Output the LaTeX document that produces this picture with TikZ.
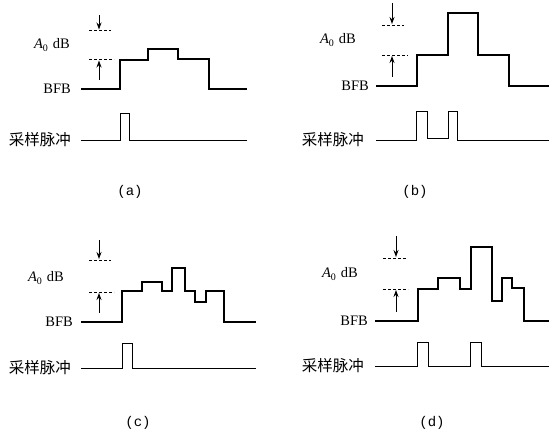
\documentclass[tikz,border=0pt]{standalone}
\usepackage{fontspec}
\setmainfont{Liberation Serif}
\newfontfamily\cjk{Noto Sans CJK SC}
\newfontfamily\capfont{Liberation Mono}
\usetikzlibrary{arrows.meta}
\newcommand{\AzerodB}{\textit{A}\raisebox{-3pt}{\fontsize{10}{10}\selectfont 0}\hspace{5pt}dB}
\begin{document}
\begin{tikzpicture}[x=1pt,y=-1pt,
  sig/.style={line width=1.1pt,line join=miter},
  pulseline/.style={line width=0.9pt,line join=miter},
  refline/.style={densely dashed,line width=0.7pt},
  marrow/.style={-{Stealth[length=7pt,width=5pt]},line width=0.9pt},
  lab/.style={inner sep=0pt,font=\fontsize{14.5}{14.5}\selectfont},
  cjklab/.style={inner sep=0pt,font=\cjk\fontsize{15.5}{16}\selectfont},
  caplab/.style={inner sep=0pt,font=\capfont\fontsize{14}{14}\selectfont}]
\useasboundingbox (0,0) rectangle (549,430);
\fill[white] (0,0) rectangle (549,430);

% ---------- (a) ----------
\coordinate (a-dt) at (99,15);
\coordinate (a-d1) at (89,30.5); \coordinate (a-d2) at (111,30.5);
\coordinate (a-e1) at (89,59.5); \coordinate (a-e2) at (114,59.5);
\coordinate (a-ut) at (99,80);
\draw[refline] (a-d1) -- (a-d2);
\draw[refline] (a-e1) -- (a-e2);
\draw[marrow] (a-dt) -- (99,29.5);
\draw[marrow] (a-ut) -- (99,60.5);
\node[lab] (a-A0) at (52,45) {\AzerodB};
\node[lab,anchor=east] (a-bfb) at (71,89) {BFB};
\node[cjklab,anchor=east] (a-cy) at (71,140) {采样脉冲};
\draw[sig] (81,89) -- (120,89) -- (120,60) -- (148,60) -- (148,49) -- (178,49) -- (178,59) -- (209,59) -- (209,89) -- (247,89);
\draw[pulseline] (81,140) -- (120,140) -- (120,113) -- (129,113) -- (129,140) -- (247,140);
\node[caplab] (a-cap) at (130,192) {(a)};

% ---------- (b) ----------
\coordinate (b-dt) at (392,3);
\coordinate (b-d1) at (382,25); \coordinate (b-d2) at (404,25);
\coordinate (b-e1) at (382,55); \coordinate (b-e2) at (408,55);
\coordinate (b-ut) at (392,77);
\draw[refline] (b-d1) -- (b-d2);
\draw[refline] (b-e1) -- (b-e2);
\draw[marrow] (b-dt) -- (392,24);
\draw[marrow] (b-ut) -- (392,56);
\node[lab] (b-A0) at (338,40) {\AzerodB};
\node[lab,anchor=east] (b-bfb) at (369,86) {BFB};
\node[cjklab,anchor=east] (b-cy) at (364,140) {采样脉冲};
\draw[sig] (376,86) -- (417,86) -- (417,55) -- (448,55) -- (448,13) -- (478,13) -- (478,55) -- (509,55) -- (509,86) -- (549,86);
\draw[pulseline] (376,140) -- (416,140) -- (416,111) -- (427,111) -- (427,138) -- (448,138) -- (448,111) -- (457,111) -- (457,140) -- (549,140);
\node[caplab] (b-cap) at (415,192) {(b)};

% ---------- (c) ----------
\coordinate (c-dt) at (99,240);
\coordinate (c-d1) at (89,260); \coordinate (c-d2) at (111,260);
\coordinate (c-e1) at (89,292); \coordinate (c-e2) at (114,292);
\coordinate (c-ut) at (99,313);
\draw[refline] (c-d1) -- (c-d2);
\draw[refline] (c-e1) -- (c-e2);
\draw[marrow] (c-dt) -- (99,259);
\draw[marrow] (c-ut) -- (99,293);
\node[lab] (c-A0) at (46,278) {\AzerodB};
\node[lab,anchor=east] (c-bfb) at (73,322) {BFB};
\node[cjklab,anchor=east] (c-cy) at (71,368) {采样脉冲};
\draw[sig] (81,322) -- (122,322) -- (122,291) -- (142,291) -- (142,282) -- (162,282) -- (162,291) -- (172,291) -- (172,268) -- (185,268) -- (185,291) -- (195,291) -- (195,302) -- (206,302) -- (206,291) -- (224,291) -- (224,322) -- (256,322);
\draw[pulseline] (81,368) -- (122,368) -- (122,343) -- (132,343) -- (132,368) -- (256,368);
\node[caplab] (c-cap) at (138,423) {(c)};

% ---------- (d) ----------
\coordinate (d-dt) at (396,236);
\coordinate (d-d1) at (383,258); \coordinate (d-d2) at (406,258);
\coordinate (d-e1) at (383,289); \coordinate (d-e2) at (408,289);
\coordinate (d-ut) at (396,312);
\draw[refline] (d-d1) -- (d-d2);
\draw[refline] (d-e1) -- (d-e2);
\draw[marrow] (d-dt) -- (396,257);
\draw[marrow] (d-ut) -- (396,290);
\node[lab] (d-A0) at (340,274) {\AzerodB};
\node[lab,anchor=east] (d-bfb) at (368,321) {BFB};
\node[cjklab,anchor=east] (d-cy) at (364,366) {采样脉冲};
\draw[sig] (375,321) -- (418,321) -- (418,289) -- (438,289) -- (438,278) -- (460,278) -- (460,289) -- (471,289) -- (471,247) -- (492,247) -- (492,301) -- (502,301) -- (502,278) -- (512,278) -- (512,288) -- (524,288) -- (524,321) -- (549,321);
\draw[pulseline] (375,366) -- (417,366) -- (417,342) -- (428,342) -- (428,366) -- (470,366) -- (470,342) -- (481,342) -- (481,366) -- (549,366);
\node[caplab] (d-cap) at (432,423) {(d)};
\end{tikzpicture}
\end{document}
